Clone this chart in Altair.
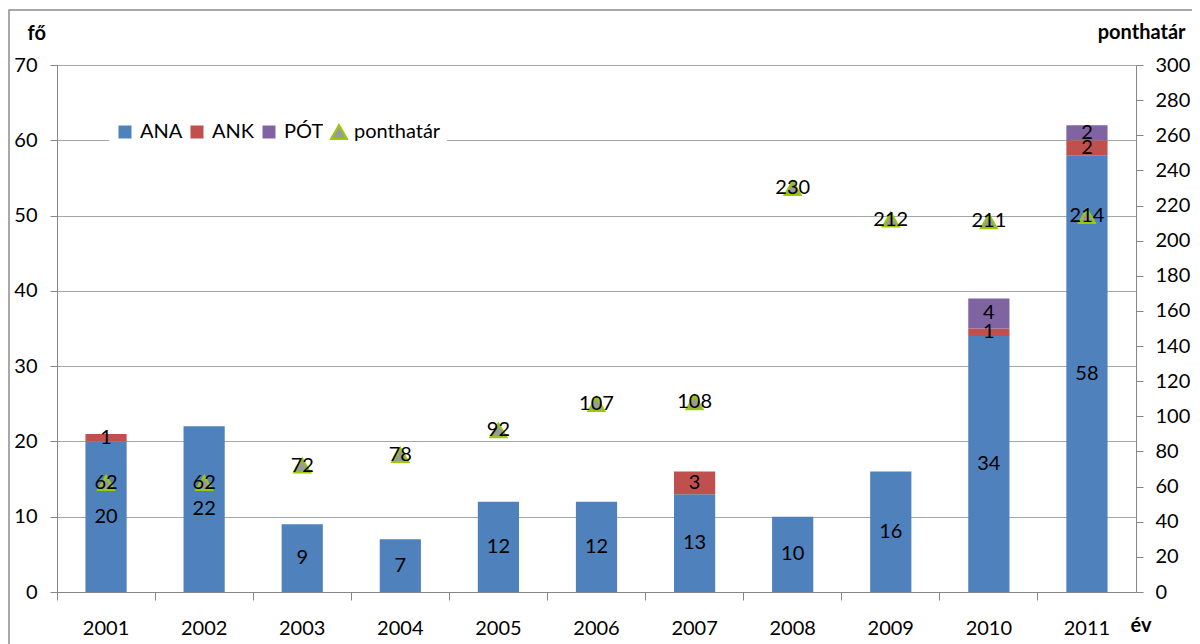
import altair as alt
import pandas as pd

years = ["2001", "2002", "2003", "2004", "2005", "2006", "2007", "2008", "2009", "2010", "2011"]
ana = [20, 22, 9, 7, 12, 12, 13, 10, 16, 34, 58]
ank = [1, 0, 0, 0, 0, 0, 3, 0, 0, 1, 2]
pot = [0, 0, 0, 0, 0, 0, 0, 0, 0, 4, 2]
ponthatar = [62, 62, 72, 78, 92, 107, 108, 230, 212, 211, 214]
series = ["ANA", "ANK", "PÓT"]
colors = ["#4F81BD", "#C0504D", "#8064A2"]

rows = []
for i, y in enumerate(years):
    for k, (s, vals) in enumerate(zip(series, [ana, ank, pot])):
        rows.append({"ev": y, "sor": s, "ertek": vals[i], "rend": k})
bars_df = pd.DataFrame(rows)
pts_df = pd.DataFrame({"ev": years, "ponthatar": ponthatar, "jel": ["ponthatár"] * len(years)})

FONT = "Lato"
FS = 20
AXC = "#868686"
W, H = 1079, 527
xscale = alt.Scale(domain=years, paddingInner=0, paddingOuter=0)

x_main = alt.X(
    "ev:N", scale=xscale,
    axis=alt.Axis(title="év", bandPosition=0, ticks=True, tickSize=8, labelAngle=0,
                  labelPadding=18, labelAlign="center",
                  domainColor=AXC, tickColor=AXC,
                  titleFontWeight="bold", titleAngle=0, titleAlign="left",
                  titleBaseline="middle", titleX=1073, titleY=33),
)
yl_scale = alt.Scale(domain=[0, 70])
yr_scale = alt.Scale(domain=[0, 300])

border = alt.Chart(alt.Data(values=[{"a": 1}])).mark_rect(
    fill="transparent", stroke="#8C8C8C", strokeWidth=1.5
).encode(
    x=alt.value(-48), x2=alt.value(1300), y=alt.value(-55), y2=alt.value(800)
)

bars = alt.Chart(bars_df).mark_bar(width=alt.RelativeBandSize(0.42)).encode(
    x=x_main,
    y=alt.Y("ertek:Q", stack="zero", scale=yl_scale,
            axis=alt.Axis(values=list(range(0, 71, 10)), grid=True, gridColor="#A6A6A6",
                          tickSize=7, labelPadding=13, title="fő", titleAngle=0,
                          titleAlign="left", titleBaseline="middle", titleFontWeight="bold",
                          titleX=-30, titleY=-32)),
    color=alt.Color("sor:N", scale=alt.Scale(domain=series, range=colors),
                    legend=alt.Legend(title=None, orient="none", legendX=52, legendY=51,
                                      direction="horizontal", symbolType="square",
                                      symbolSize=169, symbolStrokeWidth=0, fillColor="white",
                                      padding=6, columnPadding=4, labelOffset=5)),
    order=alt.Order("rend:Q"),
)

bar_labels = alt.Chart(bars_df).transform_stack(
    stack="ertek", groupby=["ev"], as_=["y0", "y1"], sort=[alt.SortField("rend")]
).transform_calculate(
    mid="(datum.y0 + datum.y1) / 2"
).transform_filter("datum.ertek > 0").mark_text(
    font=FONT, fontSize=FS, color="black", baseline="middle"
).encode(
    x=x_main,
    y=alt.Y("mid:Q", scale=yl_scale, axis=None),
    text="ertek:Q",
)

tri_legend = alt.Legend(title=None, orient="none", legendX=266, legendY=51,
                        symbolSize=260, symbolStrokeWidth=2,
                        fillColor="white", padding=6, labelOffset=5)
tri = alt.Chart(pts_df).mark_point(filled=True, strokeWidth=2, size=260, opacity=1).encode(
    x=x_main,
    y=alt.Y("ponthatar:Q", scale=yr_scale,
            axis=alt.Axis(orient="right", values=list(range(0, 301, 20)), grid=False,
                          tickSize=7, labelPadding=12, title="ponthatár", titleAngle=0,
                          titleAlign="right", titleBaseline="middle", titleFontWeight="bold",
                          titleX=49, titleY=-33)),
    shape=alt.Shape("jel:N", scale=alt.Scale(domain=["ponthatár"], range=["triangle-up"]),
                    legend=tri_legend),
    fill=alt.Fill("jel:N", scale=alt.Scale(domain=["ponthatár"], range=["#9A9A9A"]),
                  legend=tri_legend),
    stroke=alt.Stroke("jel:N", scale=alt.Scale(domain=["ponthatár"], range=["#99CC00"]),
                      legend=tri_legend),
)
tri_labels = alt.Chart(pts_df).mark_text(
    font=FONT, fontSize=FS, color="black", baseline="middle"
).encode(
    x=x_main,
    y=alt.Y("ponthatar:Q", scale=yr_scale, axis=None),
    text="ponthatar:Q",
)

chart = alt.layer(border, bars, bar_labels, tri, tri_labels).resolve_scale(
    y="independent"
).properties(
    width=W, height=H,
    autosize=alt.AutoSizeParams(type="none"),
    padding={"left": 49, "top": 57, "right": 56, "bottom": 52},
).configure_view(stroke=None).configure_axis(
    labelFont=FONT, labelFontSize=FS, labelColor="black", titleFont=FONT, titleFontSize=FS,
    titleColor="black", domainColor=AXC, tickColor=AXC,
).configure_legend(labelFont=FONT, labelFontSize=FS, labelColor="black")

chart.save("out.html", embed_options={"renderer": "svg", "actions": False})
